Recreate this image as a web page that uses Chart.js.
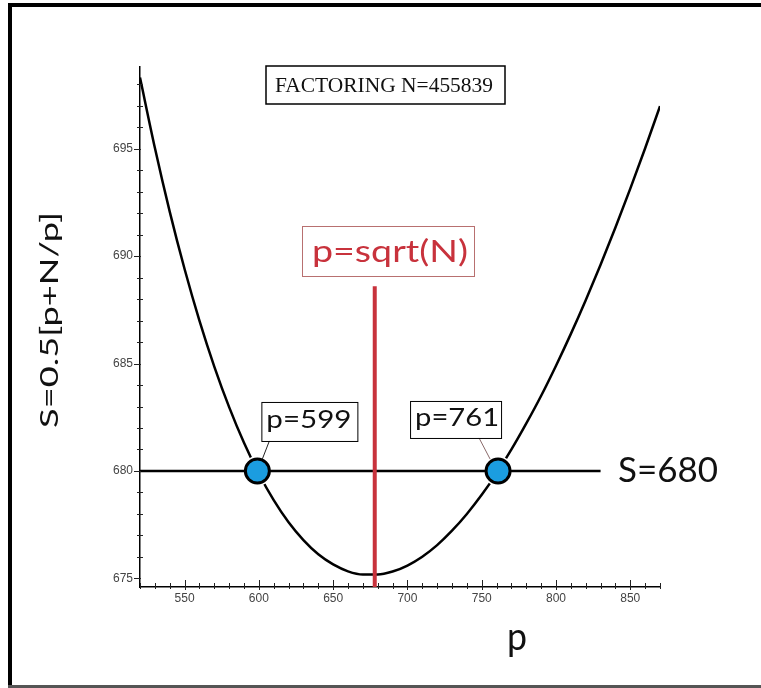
<!DOCTYPE html>
<html><head><meta charset="utf-8">
<script src="https://cdn.jsdelivr.net/npm/chart.js@4/dist/chart.umd.min.js"></script>
<style>html,body{margin:0;padding:0;background:#fff;overflow:hidden}canvas{display:block}</style>
</head><body>
<canvas id="c" width="761" height="688"></canvas>
<script>
// ---- data ----
const pValues = [520,530,540,550,560,570,580,590,600,610,620,630,640,650,660,670,680,690,700,710,720,730,740,750,760,770,780,790,800,810,820,830,840,850,860,870];
const sValues = [698.31,695.04,692.07,689.40,687.00,684.86,682.97,681.31,679.87,678.64,677.61,676.78,676.12,675.65,675.33,675.18,675.18,675.32,675.60,676.01,676.55,677.22,678.00,678.89,679.89,681.00,682.21,683.50,684.90,686.38,687.95,689.60,691.33,693.14,695.02,696.98];
const levelP = [520, 830];
const levelS = [680, 680];
const factorP = [599, 761];
const factorS = [680, 680];
const sqrtP = [678, 678];
const sqrtS = [674.6, 688.6];
const xTickValues = [520,530,540,550,560,570,580,590,600,610,620,630,640,650,660,670,680,690,700,710,720,730,740,750,760,770,780,790,800,810,820,830,840,850,860,870];
const xTickLabels = [550,600,650,700,750,800,850];
const yTickValues = [675,676,677,678,679,680,681,682,683,684,685,686,687,688,689,690,691,692,693,694,695,696,697,698];
const yTickLabels = [675,680,685,690,695];
const titleText = 'FACTORING N=455839';
const sqrtText = 'p=sqrt(N)';
const levelText = 'S=680';
const factorTexts = ['p=599', 'p=761'];
const yTitle = 'S=0.5[p+N/p]';
const xTitle = 'p';

const pts = (xs, ys) => xs.map((x, i) => ({x: x, y: ys[i]}));

function fitText(ctx, text, x, y, font, color, width) {
  ctx.save();
  ctx.font = font;
  ctx.fillStyle = color;
  ctx.textBaseline = 'alphabetic';
  ctx.textAlign = 'left';
  const w = ctx.measureText(text).width;
  ctx.translate(x, y);
  ctx.scale(width / w, 1);
  ctx.fillText(text, 0, 0);
  ctx.restore();
}

const deco = {
  id: 'deco',
  beforeDraw(chart) {
    const ctx = chart.ctx;
    ctx.save();
    ctx.fillStyle = '#fff';
    ctx.fillRect(0, 0, chart.width, chart.height);
    ctx.restore();
  },
  afterDraw(chart) {
    const ctx = chart.ctx;
    const xs = chart.scales.x, ys = chart.scales.y;
    const ax = chart.chartArea.left, ay = chart.chartArea.bottom;
    ctx.save();
    // tick marks
    ctx.strokeStyle = '#222';
    ctx.lineWidth = 1;
    ctx.beginPath();
    ys.ticks.forEach(t => {
      const py = Math.round(ys.getPixelForValue(t.value)) + 0.5;
      if (yTickLabels.includes(t.value)) { ctx.moveTo(ax - 6, py); ctx.lineTo(ax + 1, py); }
      else { ctx.moveTo(ax - 3, py); ctx.lineTo(ax + 3, py); }
    });
    xs.ticks.forEach(t => {
      const px = Math.round(xs.getPixelForValue(t.value)) + 0.5;
      if (xTickLabels.includes(t.value)) { ctx.moveTo(px, ay - 7); ctx.lineTo(px, ay + 3); }
      else { ctx.moveTo(px, ay - 4); ctx.lineTo(px, ay + 2); }
    });
    ctx.stroke();

    // leader lines
    const p1x = xs.getPixelForValue(factorP[0]), p1y = ys.getPixelForValue(factorS[0]);
    const p2x = xs.getPixelForValue(factorP[1]), p2y = ys.getPixelForValue(factorS[1]);
    ctx.strokeStyle = '#222'; ctx.lineWidth = 1;
    ctx.beginPath(); ctx.moveTo(p1x + 12, p1y - 30); ctx.lineTo(p1x + 5, p1y - 12); ctx.stroke();
    ctx.strokeStyle = '#8a6a6a';
    ctx.beginPath(); ctx.moveTo(p2x - 19, p2y - 33); ctx.lineTo(p2x - 8, p2y - 12); ctx.stroke();

    // boxes
    ctx.strokeStyle = '#000'; ctx.lineWidth = 1.5;
    ctx.strokeRect(266, 66, 239, 38);
    ctx.lineWidth = 1;
    ctx.strokeRect(p1x + 4.5, p1y - 68.5, 96, 39);
    ctx.strokeRect(p2x - 87.5, p2y - 69.5, 91, 37);
    ctx.strokeStyle = '#b87070';
    ctx.strokeRect(302.5, 226.5, 172, 50);

    // texts
    fitText(ctx, titleText, 275, 92, '20px "Liberation Serif"', '#111', 218);
    fitText(ctx, sqrtText, 312, 262, '30px Lato', '#c8323c', 156);
    fitText(ctx, factorTexts[0], p1x + 9, p1y - 43, '25px Lato', '#111', 85);
    fitText(ctx, factorTexts[1], p2x - 83, p2y - 45, '25px Lato', '#111', 84);
    fitText(ctx, levelText, 618, 482, '35px Lato', '#111', 100);
    fitText(ctx, xTitle, 507, 650, '38px Lato', '#111', 20);
    ctx.save();
    ctx.font = '25px Lato';
    const w = ctx.measureText(yTitle).width;
    ctx.translate(58, 428);
    ctx.rotate(-Math.PI / 2);
    ctx.scale(216 / w, 1);
    ctx.fillStyle = '#111';
    ctx.fillText(yTitle, 0, 0);
    ctx.restore();

    // frame
    ctx.fillStyle = '#000';
    ctx.fillRect(8, 3, 761, 4);
    ctx.fillRect(8, 3, 4, 688);
    ctx.fillStyle = '#555';
    ctx.fillRect(8, 685, 761, 3);
    ctx.restore();
  }
};

new Chart(document.getElementById('c'), {
  type: 'scatter',
  data: {
    datasets: [
      { data: pts(factorP, factorS), order: 0, showLine: false, pointRadius: 12, pointHoverRadius: 12,
        backgroundColor: '#1b9de0', borderColor: '#000', borderWidth: 3 },
      { data: pts(sqrtP, sqrtS), order: 1, showLine: true, borderColor: '#c8323c', borderWidth: 4, pointRadius: 0 },
      { data: pts(levelP, levelS), order: 2, showLine: true, borderColor: '#000', borderWidth: 2.5, pointRadius: 0 },
      { data: pts(factorP, factorS), order: 2.5, showLine: false, pointRadius: 15, pointHoverRadius: 15,
        backgroundColor: '#fff', borderWidth: 0 },
      { data: pts(pValues, sValues), order: 3, showLine: true, borderColor: '#000', borderWidth: 2.5, pointRadius: 0,
        cubicInterpolationMode: 'monotone' }
    ]
  },
  options: {
    responsive: false,
    animation: false,
    events: [],
    layout: { padding: { left: 0, right: 101, top: 67, bottom: 0 } },
    plugins: { legend: { display: false }, tooltip: { enabled: false } },
    scales: {
      x: {
        type: 'linear', min: 520, max: 870,
        afterBuildTicks: s => { s.ticks = xTickValues.map(v => ({ value: v })); },
        afterFit: s => { s.height = 101; },
        grid: { drawOnChartArea: false, drawTicks: false },
        border: { color: '#000', width: 1.5 },
        ticks: { autoSkip: false, maxRotation: 0, padding: 4, color: '#444',
          font: { family: '"Liberation Sans"', size: 12 },
          callback: v => xTickLabels.includes(v) ? String(v) : '' }
      },
      y: {
        type: 'linear', min: 674.6, max: 698.8,
        afterBuildTicks: s => { s.ticks = yTickValues.map(v => ({ value: v })); },
        afterFit: s => { s.width = 140; },
        grid: { drawOnChartArea: false, drawTicks: false },
        border: { color: '#000', width: 1.5 },
        ticks: { autoSkip: false, padding: 7, color: '#444',
          font: { family: '"Liberation Sans"', size: 12 },
          callback: v => yTickLabels.includes(v) ? String(v) : '' }
      }
    }
  },
  plugins: [deco]
});
</script>
</body></html>
